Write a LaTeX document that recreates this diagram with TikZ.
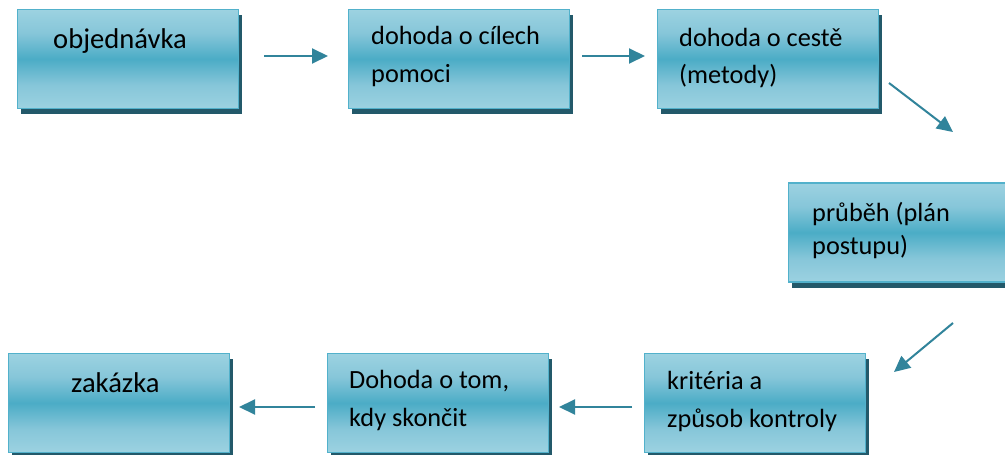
\documentclass[tikz,border=0pt]{standalone}
\usepackage{fontspec}
\setmainfont{Carlito}
\usetikzlibrary{arrows.meta,shadows}

\definecolor{boxlight}{HTML}{9CD2E1}
\definecolor{boxmid}{HTML}{86C6D9}
\definecolor{boxdark}{HTML}{4BACC6}
\definecolor{boxedge}{HTML}{52B1CB}
\definecolor{boxshadow}{HTML}{23596A}
\definecolor{arrowc}{HTML}{31849B}

% light at top and bottom, darkest in the middle
\pgfdeclareverticalshading{boxshade}{100bp}{%
  color(0bp)=(boxlight); color(25bp)=(boxlight); color(37bp)=(boxmid);
  color(50bp)=(boxdark); color(63bp)=(boxmid); color(75bp)=(boxlight);
  color(100bp)=(boxlight)}

\tikzset{
  stepbox/.style={rectangle, minimum width=221pt, minimum height=99pt,
    inner sep=0pt, shading=boxshade, draw=boxedge, line width=1.5pt,
    drop shadow={shadow xshift=3.5pt, shadow yshift=-5.5pt,
      fill=boxshadow, opacity=1}},
  lbl/.style={anchor=base west, inner sep=0pt,
    font=\fontsize{26.3}{32}\selectfont, text=black},
  biglbl/.style={lbl, font=\fontsize{28.6}{34}\selectfont},
  flow/.style={draw=arrowc, line width=2pt,
    -{Triangle[length=16pt, width=15pt]}}
}

\begin{document}
\begin{tikzpicture}[x=1pt, y=-1pt]
  \fill[white] (0,0) rectangle (1005,455);
  \useasboundingbox (0,0) rectangle (1005,455);
  \clip (0,0) rectangle (1005,455);

  % boxes
  \node[stepbox] (b1) at (128,59) {};
  \node[stepbox] (b2) at (459,59) {};
  \node[stepbox] (b3) at (768,59) {};
  \node[stepbox] (b4) at (899,232.5) {};
  \node[stepbox] (b5) at (755,403) {};
  \node[stepbox] (b6) at (438,403) {};
  \node[stepbox] (b7) at (119,403) {};

  % labels
  \node[biglbl] (t1) at (53,48) {objednávka};
  \node[lbl] (t2a) at (371,45) {dohoda o cílech};
  \node[lbl] (t2b) at (371,82) {pomoci};
  \node[lbl] (t3a) at (679,46) {dohoda o cestě};
  \node[lbl] (t3b) at (679,83) {(metody)};
  \node[lbl] (t4a) at (812,221) {průběh (plán};
  \node[lbl] (t4b) at (812,254) {postupu)};
  \node[lbl] (t5a) at (667,389) {kritéria a};
  \node[lbl] (t5b) at (667,427) {způsob kontroly};
  \node[lbl] (t6a) at (349,388) {Dohoda o tom,};
  \node[lbl] (t6b) at (349,426) {kdy skončit};
  \node[biglbl] (t7) at (71,392) {zakázka};

  % arrow ends
  \coordinate (a1s) at (264,56);  \coordinate (a1e) at (328,56);
  \coordinate (a2s) at (582,56);  \coordinate (a2e) at (645,56);
  \coordinate (a3s) at (889,83);  \coordinate (a3e) at (953,132);
  \coordinate (a4s) at (953,323); \coordinate (a4e) at (894,372);
  \coordinate (a5s) at (632,407); \coordinate (a5e) at (559,407);
  \coordinate (a6s) at (315,407); \coordinate (a6e) at (239,407);

  \draw[flow] (a1s) -- (a1e);
  \draw[flow] (a2s) -- (a2e);
  \draw[flow] (a3s) -- (a3e);
  \draw[flow] (a4s) -- (a4e);
  \draw[flow] (a5s) -- (a5e);
  \draw[flow] (a6s) -- (a6e);
\end{tikzpicture}
\end{document}
